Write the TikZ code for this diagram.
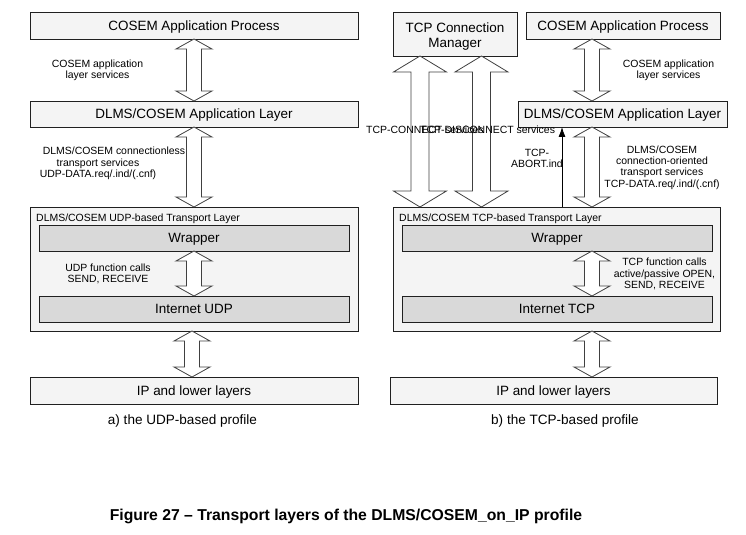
\documentclass[tikz,border=0pt]{standalone}
\usepackage{fontspec}
\setmainfont{Liberation Sans}
\usetikzlibrary{calc,arrows.meta}
\definecolor{boxfill}{HTML}{F4F4F4}
\definecolor{innerfill}{HTML}{D9D9D9}
\definecolor{lineclr}{HTML}{202020}
\definecolor{arrclr}{HTML}{404040}
\newcommand\hollowarrow[5]{%
  \draw[hollow] (#1) -- ++(#4,#5) -- ++({#3-#4},0) -- ($(#2)+(#3,-#5)$) -- ++({#4-#3},0) -- (#2)
     -- ++(-#4,-#5) -- ++({#4-#3},0) -- ($(#1)+(-#3,#5)$) -- ++({#3-#4},0) -- cycle;}
\begin{document}
\begin{tikzpicture}[x=1bp,y=-1bp,
  box/.style={draw=lineclr,line width=0.8bp,fill=boxfill,anchor=north west,inner sep=0pt,outer sep=0pt,
    font=\fontsize{13.5}{15}\selectfont,align=center,text height=9.7bp,text depth=0pt},
  inner/.style={box,fill=innerfill},
  outerbox/.style={draw=lineclr,line width=0.8bp,fill=boxfill,anchor=north west,inner sep=0pt,outer sep=0pt},
  small/.style={font=\fontsize{10.5}{11.3}\selectfont,align=center,inner sep=0pt},
  captext/.style={font=\fontsize{13.6}{15}\selectfont,inner sep=0pt},
  hollow/.style={draw=arrclr,line width=0.8bp,fill=white,line join=miter},
  thinarrow/.style={draw=black,line width=0.8bp,-{Latex[length=10bp,width=7bp]}}]
\useasboundingbox (0,0) rectangle (746,535);
% ---------- left: UDP ----------
\node[box,minimum width=328bp,minimum height=27bp] (lap) at (30,12) {COSEM Application Process};
\node[box,minimum width=328bp,minimum height=26bp] (lal) at (30,101) {DLMS/COSEM Application Layer};
\node[outerbox,minimum width=328bp,minimum height=124bp] (ltl) at (30,207) {};
\node[small,anchor=base west] (ltllbl) at (36,221.5) {DLMS/COSEM UDP-based Transport Layer};
\node[inner,minimum width=310bp,minimum height=26bp] (lwr) at (39,225) {Wrapper};
\node[inner,minimum width=310bp,minimum height=26bp] (ludp) at (39,296) {Internet UDP};
\node[box,minimum width=328bp,minimum height=27bp] (lip) at (30,377) {IP and lower layers};
\coordinate (lx) at (194,0);
\coordinate (lx2) at (192,0);
\hollowarrow{lap.south -| lx}{lal.north -| lx}{7.5}{18}{10}
\hollowarrow{lal.south -| lx}{ltl.north -| lx}{7.5}{18}{10}
\hollowarrow{lwr.south -| lx}{ludp.north -| lx}{7.5}{18}{10}
\hollowarrow{ltl.south -| lx2}{lip.north -| lx2}{7.5}{18}{10}
\node[small] (lt1) at (97.5,70.5) {COSEM application\\layer services};
\node[small] (lt2) at (98,163.5) {\hspace*{32bp}DLMS/COSEM connectionless\\transport services\\UDP-DATA.req/.ind/(.cnf)};
\node[small] (lt3) at (108,274) {UDP function calls\\SEND, RECEIVE};
\node[captext] (lcap) at (182.5,421) {a) the UDP-based profile};
% ---------- right: TCP ----------
\node[box,minimum width=124bp,minimum height=44bp,text height=27.7bp,text depth=0pt] (tcm) at (393,12) {TCP Connection\\Manager};
\node[box,minimum width=194bp,minimum height=27bp] (rap) at (526,12) {COSEM Application Process};
\node[box,minimum width=209bp,minimum height=26bp] (ral) at (518,101) {DLMS/COSEM Application Layer};
\node[outerbox,minimum width=327bp,minimum height=124bp] (rtl) at (393,207) {};
\node[small,anchor=base west] (rtllbl) at (399,221.5) {DLMS/COSEM TCP-based Transport Layer};
\node[inner,minimum width=310bp,minimum height=26bp] (rwr) at (402,225) {Wrapper};
\node[inner,minimum width=310bp,minimum height=26bp] (rtcp) at (402,296) {Internet TCP};
\node[box,minimum width=327bp,minimum height=27bp] (rip) at (390,377) {IP and lower layers};
\coordinate (rx) at (592,0);
\coordinate (ca) at (420,0);
\coordinate (cb) at (481.5,0);
\coordinate (ab) at (562,0);
\hollowarrow{tcm.south -| ca}{rtl.north -| ca}{9}{26.5}{16}
\hollowarrow{tcm.south -| cb}{rtl.north -| cb}{9}{26.5}{16}
\hollowarrow{rap.south -| rx}{ral.north -| rx}{7.5}{18}{10}
\hollowarrow{ral.south -| rx}{rtl.north -| rx}{7.5}{18}{10}
\hollowarrow{rwr.south -| rx}{rtcp.north -| rx}{7.5}{18}{10}
\hollowarrow{rtl.south -| rx}{rip.north -| rx}{7.5}{18}{10}
\draw[thinarrow] (rtl.north -| ab) -- (ral.south -| ab);
\node[small,anchor=base west] (conn) at (366,133.5) {TCP-CONNECT services};
\node[small,anchor=base west] (disc) at (420,133.5) {TCP-DISCONNECT services};
\node[small] (abrt) at (537,158.5) {TCP-\\ABORT.ind};
\node[small] (rt1) at (668.5,70.5) {COSEM application\\layer services};
\node[small] (rt2) at (662,167.5) {DLMS/COSEM\\connection-oriented\\transport services\\TCP-DATA.req/.ind/(.cnf)};
\node[small] (rt3) at (664.5,274) {TCP function calls\\active/passive OPEN,\\SEND, RECEIVE};
\node[captext] (rcap) at (565,421) {b) the TCP-based profile};
% ---------- figure caption ----------
\node[font=\bfseries\fontsize{15.8}{17}\selectfont,inner sep=0pt] (fig) at (346,516) {Figure 27 – Transport layers of the DLMS/COSEM\_on\_IP profile};
\end{tikzpicture}
\end{document}
